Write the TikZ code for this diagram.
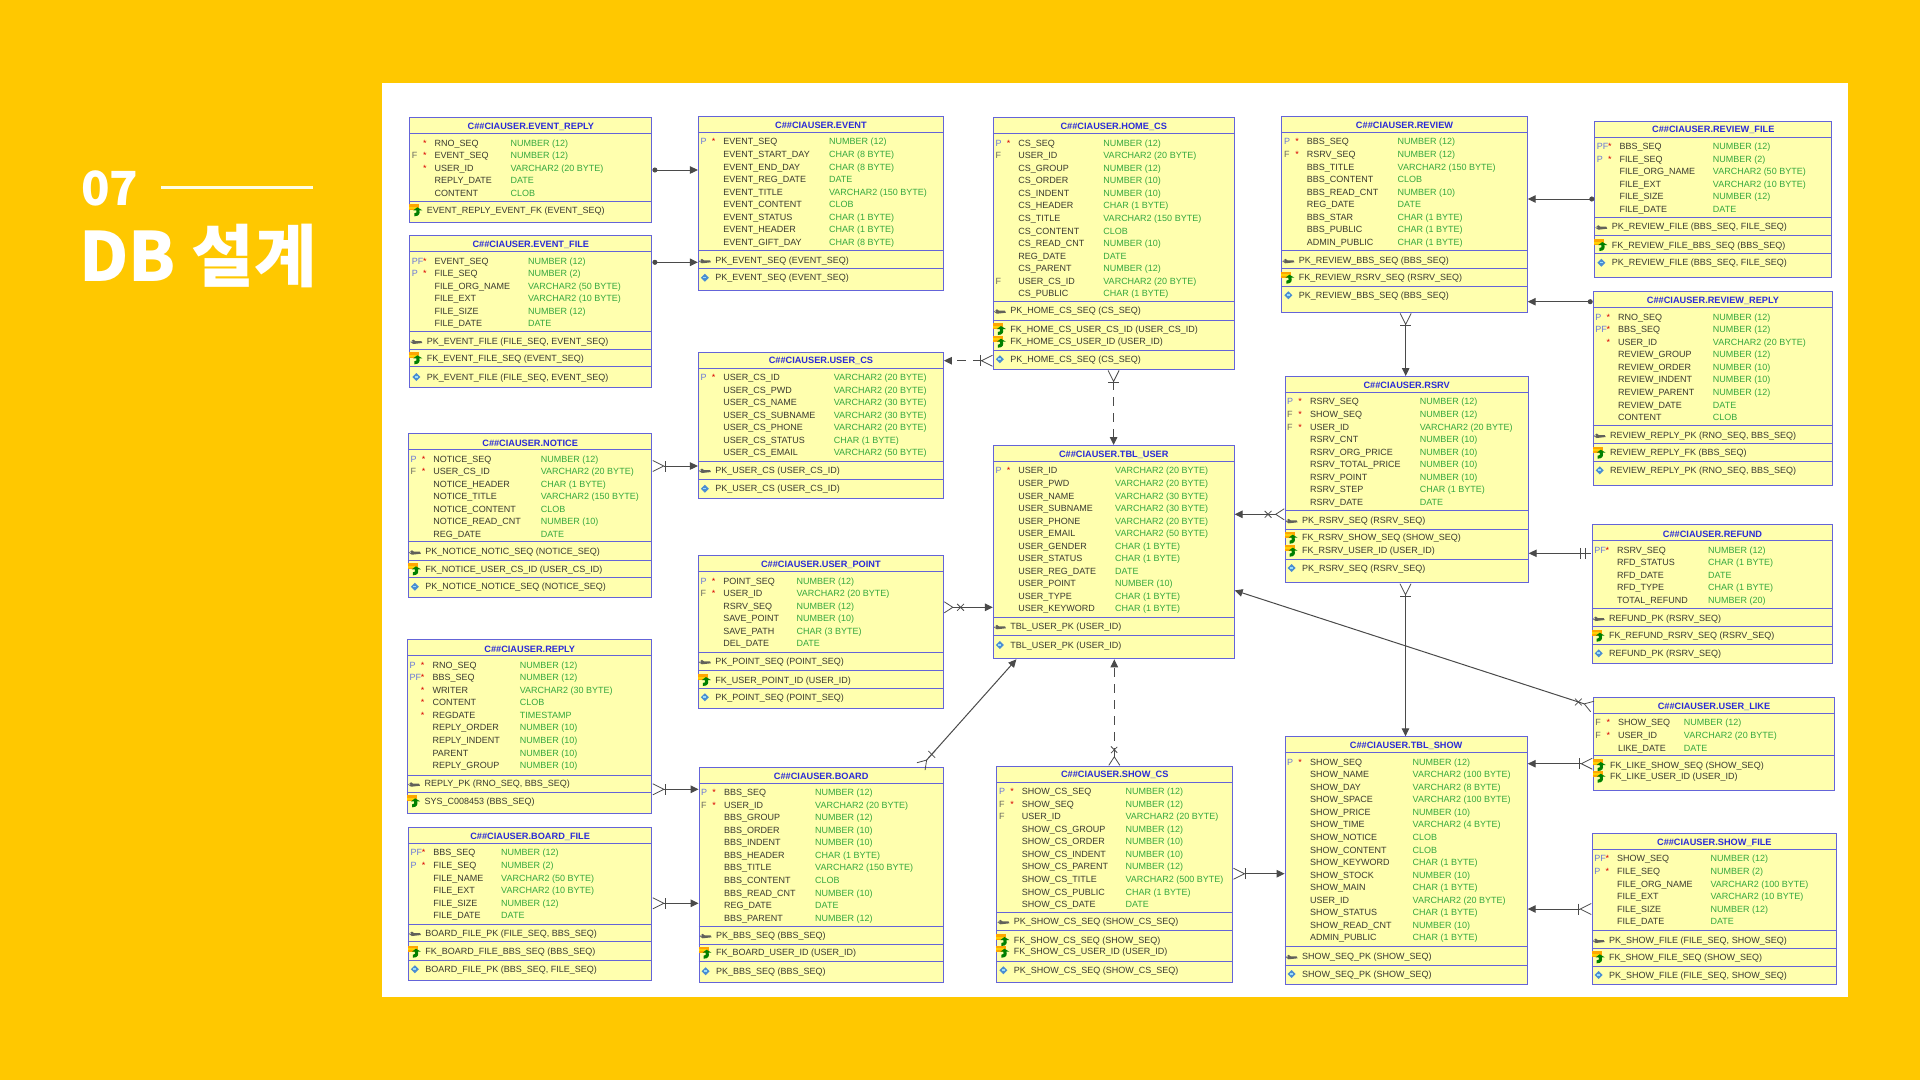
\documentclass[tikz,border=0pt]{standalone}
\usepackage{fontspec}
\usepackage{xcolor}
\usepackage{tikz}
\usetikzlibrary{arrows.meta,shapes.misc}
\setmainfont{Liberation Sans}
\newfontfamily\cjk{Noto Sans CJK KR Black}
\definecolor{slideyellow}{HTML}{FFC800}
\definecolor{tablefill}{HTML}{FFFFAE}
\definecolor{tableline}{HTML}{6464D8}
\definecolor{titleblue}{HTML}{2B2BD8}
\definecolor{typegreen}{HTML}{35A83F}
\definecolor{namedark}{HTML}{3A3A30}
\definecolor{flagblue}{HTML}{6A78D8}
\definecolor{flaggray}{HTML}{6A6A60}
\definecolor{relgray}{HTML}{4A4A4A}
\tikzset{
    tablebox/.style={rectangle, draw=tableline, line width=1pt, fill=tablefill, inner sep=0pt, anchor=north west},
    rowline/.style={draw=tableline, line width=1pt},
    celltext/.style={inner sep=0pt, anchor=west, text height=7pt, text depth=.6pt, font=\fontsize{9}{10}\selectfont},
    tabletitle/.style={inner sep=0pt, text=titleblue, font=\fontsize{9.2}{10}\selectfont\bfseries},
    colname/.style={celltext, text=namedark},
    coltype/.style={celltext, text=typegreen},
    keyname/.style={celltext, text=namedark},
    flag/.style={celltext, text=flaggray},
    flagF/.style={flag},
    flagP/.style={flag, text=flagblue},
    flagPF/.style={flag, text=flagblue},
    starmark/.style={celltext, anchor=center, text=red!85!black},
    crossmark/.style={cross out, draw=relgray, line width=.8pt, inner sep=0pt, minimum size=6pt},
    ball/.tip={Circle[length=5pt]},
    head/.tip={Triangle[length=8pt, width=7.5pt]},
    crow/.tip={Bar[width=11pt, length=.9pt] Straight Barb[reversed, length=11pt, width=11pt, line width=.8pt]},
    crowx/.tip={Straight Barb[reversed, length=8.5pt, width=11pt, line width=.8pt]},
    twobar/.tip={Bar[width=11pt, length=1pt, sep=4pt] Bar[width=11pt, length=1pt, sep=5pt] Bar[width=0pt, length=0pt]},
    rel/.style={draw=relgray, line width=1pt},
    reldash/.style={rel, dash pattern=on 9pt off 7pt},
    pkmark/.pic={
        \fill[namedark!80] (-6,1) -- (-3,-1.5) -- (-1,0) -- (5,0) -- (6,2) -- (-3,3) -- cycle;
        \fill[white!70!namedark] (-4.5,.5) circle (.8);
    },
    fkmark/.pic={
        \fill[orange!70!yellow] (-7,-6) rectangle (3,0);
        \fill[yellow!70!orange] (-7,-3.5) rectangle (1,-1.5);
        \fill[green!50!black] (-2,6) .. controls (3,6) and (4,3) .. (3,0) -- (6,0) -- (1,-3) -- (-3,0) -- (0,0) .. controls (1,2) and (0,3) .. (-2,3) -- cycle;
    },
    ixmark/.pic={
        \fill[cyan!55!blue!75] (0,-4) -- (4,0) -- (0,4) -- (-4,0) -- cycle;
        \fill[white!60!cyan] (-1.6,-1) rectangle (1.2,.6);
    }
}
\newcommand{\schemaname}{C\#\#CIAUSER.}
\newcommand{\ertable}[9]{
\node[tablebox, minimum width={(#3-#2)*1pt}, minimum height={(#5-#4)*1pt}] (#1) at (#2,#4) {};
\node[tabletitle] (#1-title) at (#1.north |- 0,#4+9.6) {\schemaname\MakeUppercase{#1}};
\draw[rowline] (#1.west |- 0,#4+16.3) -- (#1.east |- 0,#4+16.3);
\foreach \f/\s/\n/\t [count=\i, evaluate=\i as \rowy using #4+25.7+(\i-1)*12.55] in {#7} {
\node[flag\f] (#1-f\i) at (#2+2.4,\rowy) {\f};
\node[starmark] (#1-s\i) at (#2+15.6,\rowy) {\s};
\node[colname] (#1-n\i) at (#2+25.2,\rowy) {\n};
\node[coltype] (#1-t\i) at (#6,\rowy) {\t};
}
\foreach \d in {#8} {
\draw[rowline] (#1.west |- 0,\d) -- (#1.east |- 0,\d);
}
\foreach \y/\k/\n [count=\i] in {#9} {
\pic at (#2+7,\y) {\k};
\node[keyname] (#1-k\i) at (#2+17.3,\y) {\n};
}
}
\catcode`\_=12
\begin{document}
\begin{tikzpicture}[x=1pt, y=-1pt]

\fill[slideyellow] (0,0) rectangle (1920,1080);
\useasboundingbox (0,0) rectangle (1920,1080);
\fill[white] (382,82.7) rectangle (1848,997);

\node[inner sep=0pt, anchor=west, text=white, font=\fontsize{47}{48}\selectfont\cjk] (number) at (81,188) {07};
\coordinate (rulestart) at (161,187.3);
\coordinate (ruleend) at (312.7,187.3);
\draw[white!90!yellow, line width=2.7pt] (rulestart) -- (ruleend);
\node[inner sep=0pt, anchor=west, text=white, font=\fontsize{68}{69}\selectfont\cjk] (heading) at (79,256) {DB 설계};

\ertable{event_reply}{409.3}{651.4}{117.3}{222.3}{510.4}
{/*/RNO_SEQ/NUMBER (12), F/*/EVENT_SEQ/NUMBER (12), /*/USER_ID/VARCHAR2 (20 BYTE), //REPLY_DATE/DATE, //CONTENT/CLOB}
{201}
{210.3/fkmark/EVENT_REPLY_EVENT_FK (EVENT_SEQ)}

\ertable{event}{697.9}{942.9}{116}{290}{828.9}
{P/*/EVENT_SEQ/NUMBER (12), //EVENT_START_DAY/CHAR (8 BYTE), //EVENT_END_DAY/CHAR (8 BYTE), //EVENT_REG_DATE/DATE, //EVENT_TITLE/VARCHAR2 (150 BYTE), //EVENT_CONTENT/CLOB, //EVENT_STATUS/CHAR (1 BYTE), //EVENT_HEADER/CHAR (1 BYTE), //EVENT_GIFT_DAY/CHAR (8 BYTE)}
{250.3, 268.7}
{260.3/pkmark/PK_EVENT_SEQ (EVENT_SEQ), 277.7/ixmark/PK_EVENT_SEQ (EVENT_SEQ)}

\ertable{event_file}{409.3}{651.4}{235.3}{387}{527.9}
{PF/*/EVENT_SEQ/NUMBER (12), P/*/FILE_SEQ/NUMBER (2), //FILE_ORG_NAME/VARCHAR2 (50 BYTE), //FILE_EXT/VARCHAR2 (10 BYTE), //FILE_SIZE/NUMBER (12), //FILE_DATE/DATE}
{331.7, 349.3, 366.7}
{341/pkmark/{PK_EVENT_FILE (FILE_SEQ, EVENT_SEQ)}, 358.3/fkmark/FK_EVENT_FILE_SEQ (EVENT_SEQ), 377/ixmark/{PK_EVENT_FILE (FILE_SEQ, EVENT_SEQ)}}

\ertable{user_cs}{697.9}{942.9}{351.7}{498.3}{833.6}
{P/*/USER_CS_ID/VARCHAR2 (20 BYTE), //USER_CS_PWD/VARCHAR2 (20 BYTE), //USER_CS_NAME/VARCHAR2 (30 BYTE), //USER_CS_SUBNAME/VARCHAR2 (30 BYTE), //USER_CS_PHONE/VARCHAR2 (20 BYTE), //USER_CS_STATUS/CHAR (1 BYTE), //USER_CS_EMAIL/VARCHAR2 (50 BYTE)}
{461, 479.3}
{470/pkmark/PK_USER_CS (USER_CS_ID), 488.7/ixmark/PK_USER_CS (USER_CS_ID)}

\ertable{notice}{407.9}{651.4}{433.3}{596.7}{540.7}
{P/*/NOTICE_SEQ/NUMBER (12), F/*/USER_CS_ID/VARCHAR2 (20 BYTE), //NOTICE_HEADER/CHAR (1 BYTE), //NOTICE_TITLE/VARCHAR2 (150 BYTE), //NOTICE_CONTENT/CLOB, //NOTICE_READ_CNT/NUMBER (10), //REG_DATE/DATE}
{541.3, 560, 577.3}
{551.7/pkmark/PK_NOTICE_NOTIC_SEQ (NOTICE_SEQ), 569.3/fkmark/FK_NOTICE_USER_CS_ID (USER_CS_ID), 586.7/ixmark/PK_NOTICE_NOTICE_SEQ (NOTICE_SEQ)}

\ertable{user_point}{697.9}{942.9}{555.3}{708.3}{796.4}
{P/*/POINT_SEQ/NUMBER (12), F/*/USER_ID/VARCHAR2 (20 BYTE), //RSRV_SEQ/NUMBER (12), //SAVE_POINT/NUMBER (10), //SAVE_PATH/CHAR (3 BYTE), //DEL_DATE/DATE}
{652.3, 670, 688.7}
{661.3/pkmark/PK_POINT_SEQ (POINT_SEQ), 680/fkmark/FK_USER_POINT_ID (USER_ID), 697.3/ixmark/PK_POINT_SEQ (POINT_SEQ)}

\ertable{reply}{407.1}{651.4}{639.3}{813.3}{519.6}
{P/*/RNO_SEQ/NUMBER (12), PF/*/BBS_SEQ/NUMBER (12), /*/WRITER/VARCHAR2 (30 BYTE), /*/CONTENT/CLOB, /*/REGDATE/TIMESTAMP, //REPLY_ORDER/NUMBER (10), //REPLY_INDENT/NUMBER (10), //PARENT/NUMBER (10), //REPLY_GROUP/NUMBER (10)}
{775, 792}
{783.7/pkmark/{REPLY_PK (RNO_SEQ, BBS_SEQ)}, 801.3/fkmark/SYS_C008453 (BBS_SEQ)}

\ertable{board_file}{407.9}{651.4}{827}{980}{501}
{PF/*/BBS_SEQ/NUMBER (12), P/*/FILE_SEQ/NUMBER (2), //FILE_NAME/VARCHAR2 (50 BYTE), //FILE_EXT/VARCHAR2 (10 BYTE), //FILE_SIZE/NUMBER (12), //FILE_DATE/DATE}
{924, 941.3, 960}
{933/pkmark/{BOARD_FILE_PK (FILE_SEQ, BBS_SEQ)}, 951.7/fkmark/FK_BOARD_FILE_BBS_SEQ (BBS_SEQ), 969.3/ixmark/{BOARD_FILE_PK (BBS_SEQ, FILE_SEQ)}}

\ertable{board}{698.6}{942.9}{766.7}{981.7}{815}
{P/*/BBS_SEQ/NUMBER (12), F/*/USER_ID/VARCHAR2 (20 BYTE), //BBS_GROUP/NUMBER (12), //BBS_ORDER/NUMBER (10), //BBS_INDENT/NUMBER (10), //BBS_HEADER/CHAR (1 BYTE), //BBS_TITLE/VARCHAR2 (150 BYTE), //BBS_CONTENT/CLOB, //BBS_READ_CNT/NUMBER (10), //REG_DATE/DATE, //BBS_PARENT/NUMBER (12)}
{926.7, 944, 961.7}
{935.3/pkmark/PK_BBS_SEQ (BBS_SEQ), 952.7/fkmark/FK_BOARD_USER_ID (USER_ID), 971.3/ixmark/PK_BBS_SEQ (BBS_SEQ)}

\ertable{home_cs}{992.9}{1233.6}{117.3}{369}{1103.2}
{P/*/CS_SEQ/NUMBER (12), F//USER_ID/VARCHAR2 (20 BYTE), //CS_GROUP/NUMBER (12), //CS_ORDER/NUMBER (10), //CS_INDENT/NUMBER (10), //CS_HEADER/CHAR (1 BYTE), //CS_TITLE/VARCHAR2 (150 BYTE), //CS_CONTENT/CLOB, //CS_READ_CNT/NUMBER (10), //REG_DATE/DATE, //CS_PARENT/NUMBER (12), F//USER_CS_ID/VARCHAR2 (20 BYTE), //CS_PUBLIC/CHAR (1 BYTE)}
{301.3, 320, 350.7}
{310.7/pkmark/PK_HOME_CS_SEQ (CS_SEQ), 329/fkmark/FK_HOME_CS_USER_CS_ID (USER_CS_ID), 341.7/fkmark/FK_HOME_CS_USER_ID (USER_ID), 359.3/ixmark/PK_HOME_CS_SEQ (CS_SEQ)}

\ertable{tbl_user}{992.9}{1233.6}{445}{658.3}{1115}
{P/*/USER_ID/VARCHAR2 (20 BYTE), //USER_PWD/VARCHAR2 (20 BYTE), //USER_NAME/VARCHAR2 (30 BYTE), //USER_SUBNAME/VARCHAR2 (30 BYTE), //USER_PHONE/VARCHAR2 (20 BYTE), //USER_EMAIL/VARCHAR2 (50 BYTE), //USER_GENDER/CHAR (1 BYTE), //USER_STATUS/CHAR (1 BYTE), //USER_REG_DATE/DATE, //USER_POINT/NUMBER (10), //USER_TYPE/CHAR (1 BYTE), //USER_KEYWORD/CHAR (1 BYTE)}
{617.3, 635}
{626.3/pkmark/TBL_USER_PK (USER_ID), 645/ixmark/TBL_USER_PK (USER_ID)}

\ertable{show_cs}{996.4}{1232.1}{765.7}{982.3}{1125.4}
{P/*/SHOW_CS_SEQ/NUMBER (12), F/*/SHOW_SEQ/NUMBER (12), F//USER_ID/VARCHAR2 (20 BYTE), //SHOW_CS_GROUP/NUMBER (12), //SHOW_CS_ORDER/NUMBER (10), //SHOW_CS_INDENT/NUMBER (10), //SHOW_CS_PARENT/NUMBER (12), //SHOW_CS_TITLE/VARCHAR2 (500 BYTE), //SHOW_CS_PUBLIC/CHAR (1 BYTE), //SHOW_CS_DATE/DATE}
{912.3, 930, 961}
{921.3/pkmark/PK_SHOW_CS_SEQ (SHOW_CS_SEQ), 940/fkmark/FK_SHOW_CS_SEQ (SHOW_SEQ), 951.7/fkmark/FK_SHOW_CS_USER_ID (USER_ID), 970.3/ixmark/PK_SHOW_CS_SEQ (SHOW_CS_SEQ)}

\ertable{review}{1281.4}{1526.7}{116}{312}{1397.5}
{P/*/BBS_SEQ/NUMBER (12), F/*/RSRV_SEQ/NUMBER (12), //BBS_TITLE/VARCHAR2 (150 BYTE), //BBS_CONTENT/CLOB, //BBS_READ_CNT/NUMBER (10), //REG_DATE/DATE, //BBS_STAR/CHAR (1 BYTE), //BBS_PUBLIC/CHAR (1 BYTE), //ADMIN_PUBLIC/CHAR (1 BYTE)}
{250.3, 268.7, 286.3}
{260.3/pkmark/PK_REVIEW_BBS_SEQ (BBS_SEQ), 277.7/fkmark/FK_REVIEW_RSRV_SEQ (RSRV_SEQ), 295.3/ixmark/PK_REVIEW_BBS_SEQ (BBS_SEQ)}

\ertable{rsrv}{1284.6}{1527.7}{376}{582.3}{1419.6}
{P/*/RSRV_SEQ/NUMBER (12), F/*/SHOW_SEQ/NUMBER (12), F/*/USER_ID/VARCHAR2 (20 BYTE), //RSRV_CNT/NUMBER (10), //RSRV_ORG_PRICE/NUMBER (10), //RSRV_TOTAL_PRICE/NUMBER (10), //RSRV_POINT/NUMBER (10), //RSRV_STEP/CHAR (1 BYTE), //RSRV_DATE/DATE}
{510.3, 529, 559}
{520.3/pkmark/PK_RSRV_SEQ (RSRV_SEQ), 537.7/fkmark/FK_RSRV_SHOW_SEQ (SHOW_SEQ), 550.7/fkmark/FK_RSRV_USER_ID (USER_ID), 568/ixmark/PK_RSRV_SEQ (RSRV_SEQ)}

\ertable{tbl_show}{1284.6}{1526.7}{736.3}{983.7}{1412.5}
{P/*/SHOW_SEQ/NUMBER (12), //SHOW_NAME/VARCHAR2 (100 BYTE), //SHOW_DAY/VARCHAR2 (8 BYTE), //SHOW_SPACE/VARCHAR2 (100 BYTE), //SHOW_PRICE/NUMBER (10), //SHOW_TIME/VARCHAR2 (4 BYTE), //SHOW_NOTICE/CLOB, //SHOW_CONTENT/CLOB, //SHOW_KEYWORD/CHAR (1 BYTE), //SHOW_STOCK/NUMBER (10), //SHOW_MAIN/CHAR (1 BYTE), //USER_ID/VARCHAR2 (20 BYTE), //SHOW_STATUS/CHAR (1 BYTE), //SHOW_READ_CNT/NUMBER (10), //ADMIN_PUBLIC/CHAR (1 BYTE)}
{946.3, 965}
{956.3/pkmark/SHOW_SEQ_PK (SHOW_SEQ), 974/ixmark/SHOW_SEQ_PK (SHOW_SEQ)}

\ertable{review_file}{1594.3}{1831.3}{120.7}{277}{1712.7}
{PF/*/BBS_SEQ/NUMBER (12), P/*/FILE_SEQ/NUMBER (2), //FILE_ORG_NAME/VARCHAR2 (50 BYTE), //FILE_EXT/VARCHAR2 (10 BYTE), //FILE_SIZE/NUMBER (12), //FILE_DATE/DATE}
{217.3, 235, 253.7}
{226.7/pkmark/{PK_REVIEW_FILE (BBS_SEQ, FILE_SEQ)}, 245/fkmark/FK_REVIEW_FILE_BBS_SEQ (BBS_SEQ), 262.7/ixmark/{PK_REVIEW_FILE (BBS_SEQ, FILE_SEQ)}}

\ertable{review_reply}{1592.7}{1832.3}{291.3}{484.7}{1712.7}
{P/*/RNO_SEQ/NUMBER (12), PF/*/BBS_SEQ/NUMBER (12), /*/USER_ID/VARCHAR2 (20 BYTE), //REVIEW_GROUP/NUMBER (12), //REVIEW_ORDER/NUMBER (10), //REVIEW_INDENT/NUMBER (10), //REVIEW_PARENT/NUMBER (12), //REVIEW_DATE/DATE, //CONTENT/CLOB}
{425.3, 443.7, 461.3}
{435/pkmark/{REVIEW_REPLY_PK (RNO_SEQ, BBS_SEQ)}, 452.7/fkmark/REVIEW_REPLY_FK (BBS_SEQ), 470.3/ixmark/{REVIEW_REPLY_PK (RNO_SEQ, BBS_SEQ)}}

\ertable{refund}{1591.7}{1832.3}{524.3}{662.7}{1708}
{PF/*/RSRV_SEQ/NUMBER (12), //RFD_STATUS/CHAR (1 BYTE), //RFD_DATE/DATE, //RFD_TYPE/CHAR (1 BYTE), //TOTAL_REFUND/NUMBER (20)}
{608, 626.7, 644.3}
{618/pkmark/REFUND_PK (RSRV_SEQ), 635.7/fkmark/FK_REFUND_RSRV_SEQ (RSRV_SEQ), 653.3/ixmark/REFUND_PK (RSRV_SEQ)}

\ertable{user_like}{1592.7}{1834.3}{697}{790}{1683.7}
{F/*/SHOW_SEQ/NUMBER (12), F/*/USER_ID/VARCHAR2 (20 BYTE), //LIKE_DATE/DATE}
{755}
{765/fkmark/FK_LIKE_SHOW_SEQ (SHOW_SEQ), 776.7/fkmark/FK_LIKE_USER_ID (USER_ID)}

\ertable{show_file}{1591.7}{1836}{833}{984.3}{1710.3}
{PF/*/SHOW_SEQ/NUMBER (12), P/*/FILE_SEQ/NUMBER (2), //FILE_ORG_NAME/VARCHAR2 (100 BYTE), //FILE_EXT/VARCHAR2 (10 BYTE), //FILE_SIZE/NUMBER (12), //FILE_DATE/DATE}
{930, 948.7, 966}
{940/pkmark/{PK_SHOW_FILE (FILE_SEQ, SHOW_SEQ)}, 957.3/fkmark/FK_SHOW_FILE_SEQ (SHOW_SEQ), 975/ixmark/{PK_SHOW_FILE (FILE_SEQ, SHOW_SEQ)}}

\draw[rel, {ball}-{head}] (event_reply.east |- 0,170) -- (event.west |- 0,170);
\draw[rel, {ball}-{head}] (event_file.east |- 0,262.3) -- (event.west |- 0,262.3);
\draw[reldash, {crow}-{head}] (home_cs.west |- 0,360.7) -- (user_cs.east |- 0,360.7);
\draw[rel, {crow}-{head}] (notice.east |- 0,466) -- (user_cs.west |- 0,466);
\draw[rel, {crowx}-{head}] (user_point.east |- 0,607.3) -- node[crossmark, pos=.34] (pointcross) {} (tbl_user.west |- 0,607.3);
\draw[rel, {crow}-{head}] (reply.east |- 0,789.3) -- (board.west |- 0,789.3);
\draw[rel, {crow}-{head}] (board_file.east |- 0,903.3) -- (board.west |- 0,903.3);
\draw[rel, {crowx}-{head}] (920.7,0 |- board.north) -- node[crossmark, pos=.115] (boardcross) {} (1016.4,0 |- tbl_user.south);
\draw[reldash, {crowx}-{head}] (1114.3,0 |- show_cs.north) -- node[crossmark, pos=.15] (showcross) {} (1114.3,0 |- tbl_user.south);
\draw[reldash, {crow}-{head}] (1113.6,0 |- home_cs.south) -- (1113.6,0 |- tbl_user.north);
\draw[rel, {crow}-{head}] (1405.7,0 |- review.south) -- (1405.7,0 |- rsrv.north);
\draw[rel, {crow}-{head}] (1405.5,0 |- rsrv.south) -- (1405.5,0 |- tbl_show.north);
\draw[rel, {crowx}-{head}] (rsrv.west |- 0,514.3) -- node[crossmark, pos=.33] (rsrvcross) {} (tbl_user.east |- 0,514.3);
\draw[rel, {crowx}-{head}] (user_like.west |- 0,706.6) -- node[crossmark, pos=.04] (likecross) {} (tbl_user.east |- 0,590.4);
\draw[rel, {ball}-{head}] (review_file.west |- 0,199) -- (review.east |- 0,199);
\draw[rel, {ball}-{head}] (review_reply.west |- 0,301.7) -- (review.east |- 0,301.7);
\draw[rel, {twobar}-{head}] (refund.west |- 0,553.3) -- (rsrv.east |- 0,553.3);
\draw[rel, {crow}-{head}] (user_like.west |- 0,763.7) -- (tbl_show.east |- 0,763.7);
\draw[rel, {crow}-{head}] (show_file.west |- 0,909) -- (tbl_show.east |- 0,909);
\draw[rel, {crow}-{head}] (show_cs.east |- 0,873.7) -- (tbl_show.west |- 0,873.7);

\end{tikzpicture}
\end{document}
